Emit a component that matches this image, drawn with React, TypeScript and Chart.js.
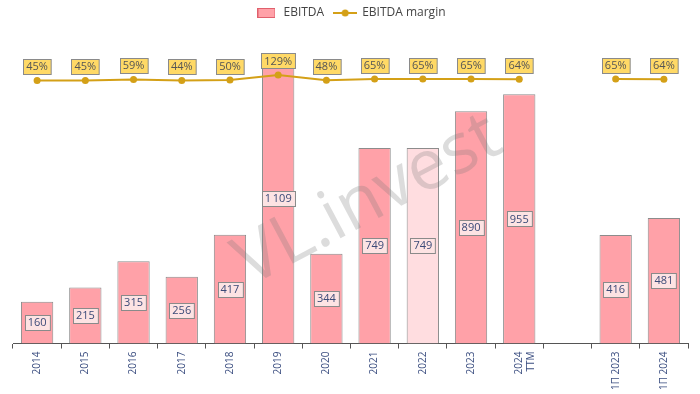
import React, { useEffect, useRef } from "react";
import { Chart, registerables } from "chart.js";

Chart.register(...registerables);

const categories: (string | string[])[] = [
  "2014", "2015", "2016", "2017", "2018", "2019", "2020", "2021", "2022", "2023",
  ["2024", "TTM"], "", "1П 2023", "1П 2024",
];
const ebitda: (number | null)[] = [160, 215, 315, 256, 417, 1109, 344, 749, 749, 890, 955, null, 416, 481];
const ebitdaLabels: string[] = ["160", "215", "315", "256", "417", "1\u2009109", "344", "749", "749", "890", "955", "", "416", "481"];
const margin: (number | null)[] = [45, 45, 59, 44, 50, 129, 48, 65, 65, 65, 64, null, 65, 64];
const barColors: string[] = [
  "#ffa1a8", "#ffa1a8", "#ffa1a8", "#ffa1a8", "#ffa1a8", "#ffa1a8", "#ffa1a8",
  "#ffa1a8", "#ffdde0", "#ffa1a8", "#ffa1a8", "#ffa1a8", "#ffa1a8", "#ffa1a8",
];

const FONT = "'Open Sans', sans-serif";
const TOP_PAD = -3;
const LEGEND_BLOCK = 57;

function makeBarIcon(): HTMLCanvasElement {
  const c = document.createElement("canvas");
  c.width = 18; c.height = 10;
  const g = c.getContext("2d")!;
  g.fillStyle = "#ffa1a8";
  g.fillRect(0.5, 0.5, 17, 9);
  g.strokeStyle = "#e0606c";
  g.lineWidth = 1;
  g.strokeRect(0.5, 0.5, 17, 9);
  return c;
}
function makeLineIcon(): HTMLCanvasElement {
  const c = document.createElement("canvas");
  c.width = 24; c.height = 10;
  const g = c.getContext("2d")!;
  g.strokeStyle = "#d4a017";
  g.lineWidth = 2;
  g.beginPath(); g.moveTo(0, 5); g.lineTo(24, 5); g.stroke();
  g.fillStyle = "#d4a017";
  g.beginPath(); g.arc(12, 5, 3.5, 0, Math.PI * 2); g.fill();
  return c;
}

function box(ctx: CanvasRenderingContext2D, text: string, cx: number, cy: number, fill: string, color: string) {
  ctx.font = `11px ${FONT}`;
  const w = ctx.measureText(text).width + 6;
  const h = 15;
  const x = Math.round(cx - w / 2) + 0.5;
  const y = Math.round(cy - h / 2) + 0.5;
  ctx.fillStyle = fill;
  ctx.fillRect(x, y, w, h);
  ctx.strokeStyle = "#8a8a8a";
  ctx.lineWidth = 1;
  ctx.strokeRect(x, y, w, h);
  ctx.fillStyle = color;
  ctx.textAlign = "center";
  ctx.textBaseline = "middle";
  ctx.fillText(text, cx, cy + 0.5);
}

const legendSpacer = {
  id: "legendSpacer",
  beforeInit(chart: any) {
    const legend = chart.legend;
    if (!legend) return;
    const orig = legend.fit;
    legend.fit = function () {
      orig.call(this);
      this.height = LEGEND_BLOCK;
    };
  },
};

const labelsPlugin = {
  id: "customLabels",
  afterDatasetsDraw(chart: any) {
    const ctx = chart.ctx as CanvasRenderingContext2D;
    const area = chart.chartArea;
    // watermark
    ctx.save();
    ctx.translate((area.left + area.right) / 2 + 18, (area.top + area.bottom) / 2 + 2);
    ctx.rotate(-28 * Math.PI / 180);
    ctx.font = `70px ${FONT}`;
    ctx.fillStyle = "rgba(120,120,120,0.26)";
    ctx.textAlign = "center";
    ctx.textBaseline = "middle";
    ctx.fillText("VL.invest", 0, 0);
    ctx.restore();

    ctx.save();
    const barMeta = chart.getDatasetMeta(1);
    barMeta.data.forEach((el: any, i: number) => {
      if (ebitda[i] == null) return;
      const cy = (el.y + el.base) / 2;
      box(ctx, ebitdaLabels[i], el.x, cy, "#fde3e3", "#3b4a78");
    });
    const lineMeta = chart.getDatasetMeta(0);
    lineMeta.data.forEach((el: any, i: number) => {
      if (margin[i] == null) return;
      box(ctx, margin[i] + "%", el.x, el.y - 14, "#ffd966", "#555555");
    });
    ctx.restore();
  },
};

export default function App() {
  const ref = useRef<HTMLCanvasElement>(null);
  useEffect(() => {
    const barIcon = makeBarIcon();
    const lineIcon = makeLineIcon();
    const chart = new Chart(ref.current!, {
      type: "bar",
      data: {
        labels: categories as any,
        datasets: [
          {
            type: "line",
            label: "EBITDA margin",
            data: margin,
            yAxisID: "y1",
            borderColor: "#d4a017",
            backgroundColor: "#d4a017",
            borderWidth: 2,
            pointRadius: 3.5,
            pointBackgroundColor: "#d4a017",
            pointBorderWidth: 0,
            spanGaps: false,
            order: 0,
          } as any,
          {
            type: "bar",
            label: "EBITDA",
            data: ebitda,
            yAxisID: "y",
            backgroundColor: barColors,
            borderColor: "#8c8c8c",
            borderWidth: 1,
            categoryPercentage: 1,
            barPercentage: 0.67,
            order: 1,
          } as any,
        ],
      },
      options: {
        responsive: false,
        animation: false,
        layout: { padding: { left: 13, right: 12, top: TOP_PAD, bottom: 1 } },
        plugins: {
          legend: {
            position: "top",
            labels: {
              usePointStyle: true,
              pointStyleWidth: 22,
              boxHeight: 10,
              padding: 10,
              color: "#444",
              font: { family: FONT, size: 12 },
              generateLabels: () => [
                { text: "EBITDA", pointStyle: barIcon, datasetIndex: 1, hidden: false, fillStyle: "#ffa1a8", strokeStyle: "#e0606c", lineWidth: 0, fontColor: "#444" } as any,
                { text: "EBITDA margin", pointStyle: lineIcon, datasetIndex: 0, hidden: false, fillStyle: "#d4a017", strokeStyle: "#d4a017", lineWidth: 0, fontColor: "#444" } as any,
              ],
            },
          },
          tooltip: { enabled: false },
        },
        scales: {
          x: {
            offset: true,
            grid: { display: true, drawOnChartArea: false, drawTicks: true, tickLength: 5, color: "#555", offset: true },
            border: { display: true, color: "#555" },
            ticks: {
              color: "#3b4e80",
              font: { family: FONT, size: 10 },
              maxRotation: 90,
              minRotation: 90,
              autoSkip: false,
              padding: 3,
            },
          },
          y: { display: false, min: 0, max: 1109 },
          y1: { display: false, min: -3990, max: 450 },
        },
      },
      plugins: [legendSpacer, labelsPlugin],
    });
    return () => chart.destroy();
  }, []);
  return (
    <div style={{ position: "fixed", left: 0, top: 0, width: 700, height: 394, background: "#fff" }}>
      <canvas ref={ref} width={700} height={394} />
    </div>
  );
}
